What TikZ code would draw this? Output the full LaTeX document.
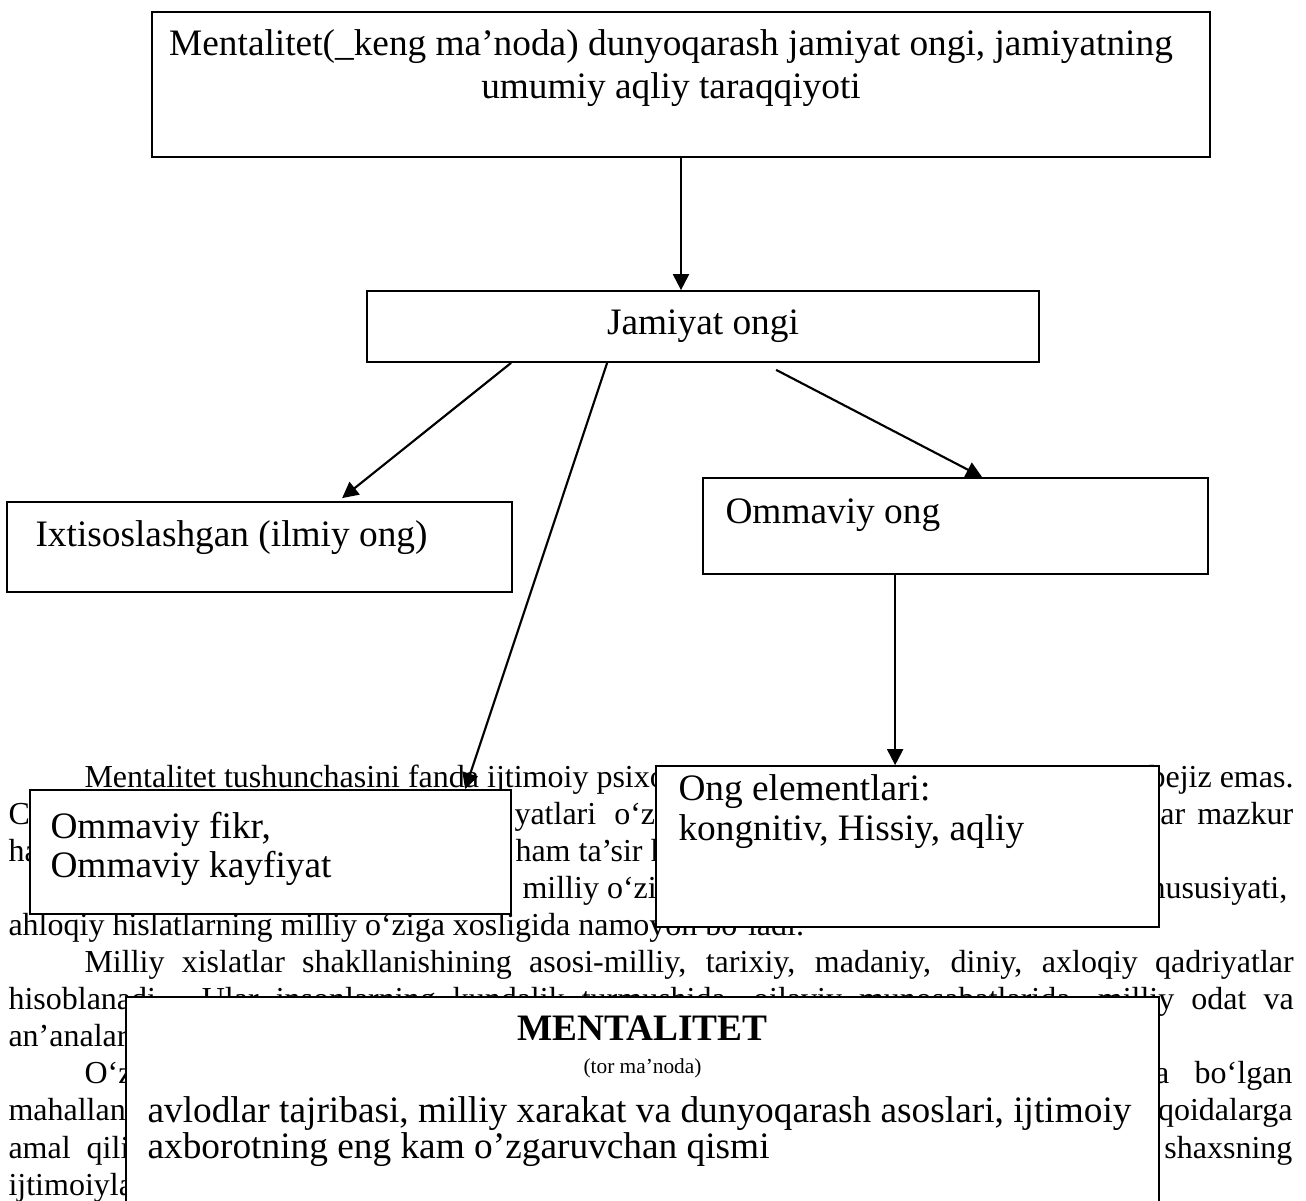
\documentclass[tikz,border=0pt]{standalone}
\usepackage{fontspec}
\setmainfont{Liberation Serif}
\usetikzlibrary{arrows.meta,calc,fit}
\begin{document}
\begin{tikzpicture}[x=0.375pt,y=-0.375pt,
  box/.style={draw=black, line width=0.65pt, fill=white, inner sep=0pt},
  body/.style={inner sep=0pt, font=\fontsize{12}{14}\selectfont},
  btxt/.style={inner sep=0pt, font=\fontsize{14}{16}\selectfont},
  arr/.style={line width=0.8pt, -{Triangle[length=6pt,width=6pt]}}]
\clip (0,0) rectangle (1306,1201);
\fill[white] (0,0) rectangle (1306,1201);
% ---------- background paragraph text ----------
\node[body, anchor=base west] (l0a) at (84,787) {Mentalitet tushunchasini fanda ijtimoiy psixo};
\node[body, anchor=base west] (l0b) at (1149,787) {bejiz emas.};
\node[body, anchor=base west] (l1a) at (8,824.1) {Ch};
\node[body, anchor=base west] (l1b) at (514,824.1) {yatlari\hspace{6.75pt}o‘zi};
\node[body, anchor=base west] (l1c) at (1151,824.1) {lar\hspace{4.5pt}mazkur};
\node[body, anchor=base west] (l2a) at (8,861.2) {ha};
\node[body, anchor=base west] (l2b) at (515,861.2) {ham ta’sir k};
\node[body, anchor=base west] (l3b) at (522,898.3) {milliy o‘zi};
\node[body, anchor=base west] (l3c) at (1149,898.3) {hususiyati,};
\node[body, anchor=base west] (l4) at (8,935.4) {ahloqiy hislatlarning milliy o‘ziga xosligida namoyon bo‘ladi.};
\node[body, anchor=base west] (l5) at (84,972.5) {\makebox[453.4pt][s]{Milliy xislatlar shakllanishining asosi-milliy, tarixiy, madaniy, diniy, axloqiy qadriyatlar}};
\node[body, anchor=base west, text depth=0pt] (l6) at (8,1009.6) {\makebox[481.9pt][s]{hisoblanadi. Ular insonlarning kundalik turmushida, oilaviy munosabatlarida, milliy odat va}};
\node[body, anchor=base west] (l7) at (8,1046.7) {an’analar};
\node[body, anchor=base west] (l8a) at (84,1083.8) {O‘z};
\node[body, anchor=base east] (l8b) at (1293,1083.8) {a\hspace{9.5pt}bo‘lgan};
\node[body, anchor=base west] (l9a) at (8,1120.9) {mahallani};
\node[body, anchor=base east] (l9b) at (1293,1120.9) {qoidalarga};
\node[body, anchor=base west] (l10a) at (8,1158) {amal\hspace{6pt}qilish};
\node[body, anchor=base east] (l10b) at (1293,1158) {shaxsning};
\node[body, anchor=base west] (l11) at (8,1195.1) {ijtimoiylashuvi};
% ---------- boxes ----------
\node[box, fit={(152,12)(1210,157)}] (top) {};
\node[box, fit={(367,291)(1039,362)}] (jam) {};
\node[box, fit={(7,502)(512,592)}] (ixt) {};
\node[box, fit={(703,478)(1208,574)}] (omo) {};
\node[box, fit={(30,790)(511,914)}] (fikr) {};
\node[box, fit={(656,766)(1159,927)}] (ong) {};
\node[box, fit={(126,997)(1159,1230)}] (ment) {};
% ---------- box texts ----------
\node[btxt, anchor=base] (toptxa) at (671,56) {Mentalitet(\_keng ma’noda) dunyoqarash jamiyat ongi, jamiyatning};
\node[btxt, anchor=base] (toptxb) at (671,99) {umumiy aqliy taraqqiyoti};
\node[btxt, anchor=base] (jamtx) at (703,335) {Jamiyat ongi};
\node[btxt, anchor=base west] (ixttx) at (35,546) {Ixtisoslashgan (ilmiy ong)};
\node[btxt, anchor=base west] (omotx) at (725,523) {Ommaviy ong};
\node[btxt, anchor=base west] (fikrtxa) at (50,838) {Ommaviy fikr,};
\node[btxt, anchor=base west] (fikrtxb) at (50,877) {Ommaviy kayfiyat};
\node[btxt, anchor=base west] (ongtxa) at (678,800) {Ong elementlari:};
\node[btxt, anchor=base west] (ongtxb) at (678,840) {kongnitiv, Hissiy, aqliy};
\node[btxt, anchor=base, font=\fontsize{14}{16}\selectfont\bfseries] (menttx) at (642.5,1040) {MENTALITET};
\node[inner sep=0pt, anchor=base, font=\fontsize{8}{9}\selectfont] (menttor) at (642.5,1073) {(tor ma’noda)};
\node[btxt, anchor=base west] (menttxa) at (147,1122) {avlodlar tajribasi, milliy xarakat va dunyoqarash asoslari, ijtimoiy};
\node[btxt, anchor=base west] (menttxb) at (147,1158) {axborotning eng kam o’zgaruvchan qismi};
% ---------- arrows ----------
\draw[arr] (top.south) -- (top.south |- jam.north);
\draw[arr] ($(jam.south west)+(145,0)$) -- ($(ixt.north west)+(336,-3)$);
\draw[arr] ($(jam.south west)+(241,0)$) -- ($(fikr.north west)+(436,0)$);
\draw[arr] ($(jam.south west)+(410,7)$) -- ($(omo.north west)+(280,0)$);
\coordinate (omodown) at ($(omo.south west)+(193,0)$);
\draw[arr] (omodown) -- (omodown |- ong.north);
\end{tikzpicture}
\end{document}
